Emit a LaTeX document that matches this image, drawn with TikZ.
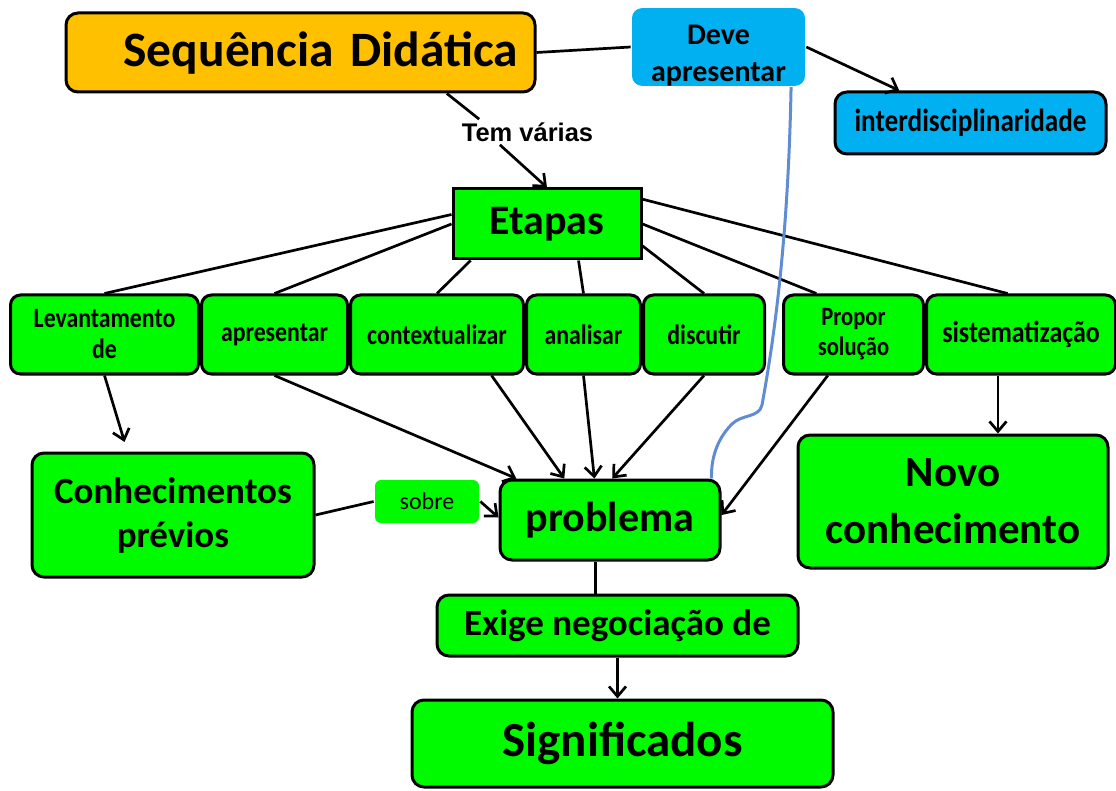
\documentclass[tikz,border=0pt]{standalone}
\usepackage{fontspec}
\setmainfont{Carlito}
\newfontfamily\arialfont{Liberation Sans}
\newfontfamily\narrowfont{Carlito}[FakeStretch=0.85]
\usetikzlibrary{
  arrows.meta,
  positioning,
  chains,
  calc
}
\definecolor{mapGreen}{RGB}{0,250,0}
\definecolor{mapOrange}{RGB}{255,192,0}
\definecolor{mapBlue}{RGB}{0,176,240}
\definecolor{linkBlue}{RGB}{95,140,210}
\newcommand{\fsize}[2]{\fontsize{#1pt}{#2pt}\selectfont\bfseries}
\newcommand{\nsize}[2]{\narrowfont\fontsize{#1pt}{#2pt}\selectfont\bfseries}
\tikzset{
  concept/.style={
    draw,
    line width=3pt,
    fill=mapGreen,
    rounded corners=12pt,
    align=center,
    inner sep=0pt
  },
  rowbox/.style={
    concept,
    rounded corners=10pt,
    minimum height=79pt,
    font=\nsize{28}{31}
  }
}

\begin{document}
\begin{tikzpicture}[
      x=1pt, y=-1pt,
      >={Straight Barb[length=10pt,width=17pt]},
      line width=2.7pt,
      node distance=0pt,
      start chain=etapa going right
      ]
      \useasboundingbox (0,0) rectangle (1116,791);

      \node[concept, fill=mapOrange, minimum width=469pt, minimum height=79pt,
        inner xsep=17pt, text width=435pt, align=right, font=\fsize{49.5}{60}]
        (seq) at (300.5,52.5) {Sequência Didática};
      \node[fill=mapBlue, rounded corners=10pt, minimum width=173pt, minimum height=70pt,
        align=center, inner sep=0pt, font=\fsize{30}{37}]
        (deve) at (718.5,47) {\rule{0pt}{36pt}Deve\\apresentar};
      \node[concept, fill=mapBlue, minimum width=271pt, minimum height=62pt, font=\nsize{32}{36}]
        (inter) at (970.5,123) {interdisciplinaridade};
      \node[inner sep=2pt, font=\arialfont\bfseries\fontsize{25.5pt}{30pt}\selectfont]
        (tem) at (527.5,132) {Tem várias};
      \node[concept, rounded corners=0pt, minimum width=188pt, minimum height=70pt, font=\fsize{42}{50}]
        (etapas) at (547,224) {Etapas};

      % the row of steps
      \node[rowbox, on chain, minimum width=188pt, anchor=west] (lev) at (9,334.5) {Levantamento\\de};
      \foreach \nome/\larg/\txt in {apres/146/apresentar, contex/173/contextualizar,
        anal/114/analisar, disc/121/discutir}{
        \node[rowbox, on chain, minimum width=\larg pt] (\nome) {\txt};
      }
      \node[rowbox, on chain, xshift=16pt, minimum width=140pt, font=\nsize{26.5}{30}] (propor) {Propor\\solução};
      \node[rowbox, on chain, minimum width=189pt, font=\nsize{30.5}{34}] (sist) {sistematização};

      \node[concept, minimum width=282pt, minimum height=124pt, font=\fsize{37}{44}]
        (conh) at (173,515) {Conhecimentos\\prévios};
      \node[fill=mapGreen, rounded corners=6pt, minimum width=104pt, minimum height=43pt,
        inner sep=0pt, font=\fontsize{24pt}{28pt}\selectfont]
        (sobre) at (427,501.5) {sobre};
      \node[concept, minimum width=220pt, minimum height=80pt, font=\fsize{42}{50}]
        (prob) at (610,520) {problema};
      \node[concept, minimum width=310pt, minimum height=133pt, font=\fsize{43}{57}]
        (novo) at (953,501.5) {Novo\\conhecimento};
      \node[concept, minimum width=361pt, minimum height=61pt, font=\fsize{37}{44}]
        (exige) at (617.5,625.5) {Exige negociação de};
      \node[concept, minimum width=421pt, minimum height=87pt, font=\fsize{49}{58}]
        (signif) at (622.5,743.5) {Significados};

      % links of the top part
      \draw (seq.east) -- (deve.west);
      \draw[->] (deve.east) -- ($(inter.north west)!0.24!(inter.north east)$);
      \draw ($(seq.south west)!0.81!(seq.south east)$) -- ($(tem.north west)!0.15!(tem.north east)$);
      \draw[->] ($(tem.south west)!0.3!(tem.south east)$) -- (etapas.north);

      \draw ($(etapas.north west)!0.37!(etapas.south west)$) -- (lev.north);
      \draw (etapas.west) -- (apres.north);
      \draw ($(etapas.south west)!0.1!(etapas.south east)$) -- (contex.north);
      \draw ($(etapas.south west)!0.665!(etapas.south east)$) -- (anal.north);
      \draw ($(etapas.north east)!0.8!(etapas.south east)$) -- (disc.north);
      \draw (etapas.east) -- ($(propor.north west)!0.24!(propor.north east)$);
      \draw ($(etapas.north east)!0.16!(etapas.south east)$) -- ($(sist.north west)!0.43!(sist.north east)$);

      % links into the problem
      \draw[->, shorten >=10pt] (lev.south) -- ($(conh.north west)!0.34!(conh.north east)$);
      \draw[->] (apres.south) -- ($(prob.north west)!0.08!(prob.north east)$);
      \draw[->] ($(contex.south west)!0.81!(contex.south east)$) -- ($(prob.north west)!0.295!(prob.north east)$);
      \draw[->] (anal.south) -- ($(prob.north west)!0.43!(prob.north east)$);
      \draw[->] (disc.south) -- ($(prob.north west)!0.51!(prob.north east)$);
      \draw[->] ($(propor.south west)!0.32!(propor.south east)$) -- ($(prob.north east)!0.44!(prob.south east)$);
      \coordinate (sistdown) at ($(sist.south west)!0.38!(sist.south east)$);
      \draw[->] (sistdown) -- (sistdown |- novo.north);

      \draw (conh.east) -- (sobre.west);
      \draw[->] (sobre.east) -- ($(prob.north west)!0.47!(prob.south west)$);
      \coordinate (probdown) at ($(prob.south west)!0.436!(prob.south east)$);
      \draw (probdown) -- (probdown |- exige.north);
      \draw[->] (exige.south) -- (exige.south |- signif.north);

      \draw[linkBlue, line width=3pt]
      ($(deve.south west)!0.913!(deve.south east)$) .. controls (788,250) and (772,350) .. (762,405)
      .. controls (759,418) and (742,414) .. (732,424)
      .. controls (716,440) and (711,460) .. ($(prob.north east)+(-10,0)$);
    \end{tikzpicture}
\end{document}
